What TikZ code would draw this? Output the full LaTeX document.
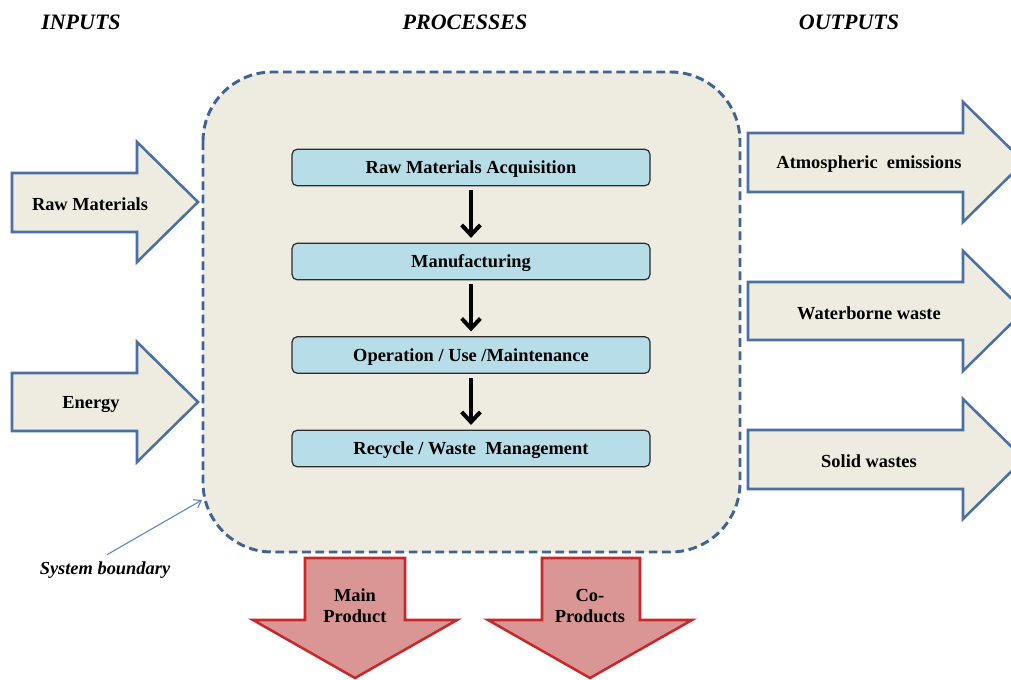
\documentclass[tikz,border=0pt]{standalone}
\usepackage{fontspec}
\setmainfont{Liberation Serif}
\usetikzlibrary{arrows.meta}
\definecolor{bgbeige}{HTML}{EEECE1}
\definecolor{bnblue}{HTML}{3F6394}
\definecolor{arblue}{HTML}{4A6FA5}
\definecolor{boxblue}{HTML}{B7DEE8}
\definecolor{boxline}{HTML}{2B2B2B}
\definecolor{prodfill}{HTML}{D99694}
\definecolor{prodline}{HTML}{C8282A}
\definecolor{thinblue}{HTML}{5B84BE}
\tikzset{
  heading/.style={font=\fontsize{16.5}{19}\selectfont\bfseries\itshape, inner sep=0pt},
  lbl/.style={font=\fontsize{13.8}{15.5}\selectfont\bfseries, align=center, inner sep=0pt, yshift=-1.5pt},
  boundary/.style={draw=bnblue, line width=2.2pt, dash pattern=on 6.5pt off 3.5pt, fill=bgbeige, rounded corners=52pt},
  inarrow/.style={draw=arblue, line width=1.9pt, fill=bgbeige, line join=miter},
  prodarrow/.style={draw=prodline, line width=1.9pt, fill=prodfill, line join=miter},
  procbox/.style={draw=boxline, line width=0.9pt, fill=boxblue, rounded corners=4pt, minimum width=268.5pt, minimum height=27.5pt, text depth=0pt, font=\fontsize{13.8}{15.5}\selectfont\bfseries, inner sep=0pt},
  flowarrow/.style={draw=black, line width=3pt, -{Straight Barb[length=7.5pt,width=14pt,line width=3pt]}, shorten <=3pt, shorten >=3.5pt},
}
\begin{document}
\begin{tikzpicture}[x=0.75pt,y=-0.75pt]
\clip (0,0) rectangle (1011,679);
\fill[white] (0,0) rectangle (1011,679);

% headings
\node[heading] (hin) at (81,22) {INPUTS};
\node[heading] (hproc) at (465,22) {PROCESSES};
\node[heading] (hout) at (849,22) {OUTPUTS};

% system boundary
\path[boundary] (203,72) rectangle (740,552);

% input arrows
\path[inarrow] (12,173) -- (137,173) -- (137,142) -- (198,202) -- (137,262) -- (137,232) -- (12,232) -- cycle;
\node[lbl] (raw) at (90,202) {Raw Materials};
\path[inarrow] (12,373) -- (137,373) -- (137,342) -- (198,402) -- (137,462) -- (137,431) -- (12,431) -- cycle;
\node[lbl] (energy) at (91,402) {Energy};

% output arrows
\path[inarrow] (748,133) -- (963,133) -- (963,102) -- (1024,162) -- (963,222) -- (963,192) -- (748,192) -- cycle;
\node[lbl] (atm) at (869,162) {Atmospheric\ \ emissions};
\path[inarrow] (748,282) -- (963,282) -- (963,251) -- (1024,311) -- (963,371) -- (963,340) -- (748,340) -- cycle;
\node[lbl] (water) at (869,311) {Waterborne waste};
\path[inarrow] (748,430) -- (963,430) -- (963,399) -- (1024,459) -- (963,519) -- (963,489) -- (748,489) -- cycle;
\node[lbl] (solid) at (869,459) {Solid wastes};

% product arrows
\path[prodarrow] (305,558) -- (405,558) -- (405,620) -- (457,620) -- (355,678) -- (253,620) -- (305,620) -- cycle;
\node[lbl] (main) at (355,604) {Main\\Product};
\path[prodarrow] (542,558) -- (640,558) -- (640,620) -- (692,620) -- (590,678) -- (488,620) -- (542,620) -- cycle;
\node[lbl] (co) at (590,604) {Co-\\Products};

% process boxes
\node[procbox] (b1) at (471,167.5) {Raw Materials Acquisition};
\node[procbox] (b2) at (471,261.5) {Manufacturing};
\node[procbox] (b3) at (471,355) {Operation / Use /Maintenance};
\node[procbox] (b4) at (471,448.5) {Recycle / Waste\ \ Management};
\draw[flowarrow] (b1) -- (b2);
\draw[flowarrow] (b2) -- (b3);
\draw[flowarrow] (b3) -- (b4);

% system boundary label
\node[lbl, font=\fontsize{13.8}{15.5}\selectfont\bfseries\itshape] (sb) at (105,568) {System boundary};
\coordinate (sbend) at (202,500);
\draw[draw=thinblue, line width=0.8pt, -{Straight Barb[length=5pt,width=7pt]}] ([xshift=1.5pt,yshift=5pt]sb.north) -- (sbend);
\end{tikzpicture}
\end{document}
